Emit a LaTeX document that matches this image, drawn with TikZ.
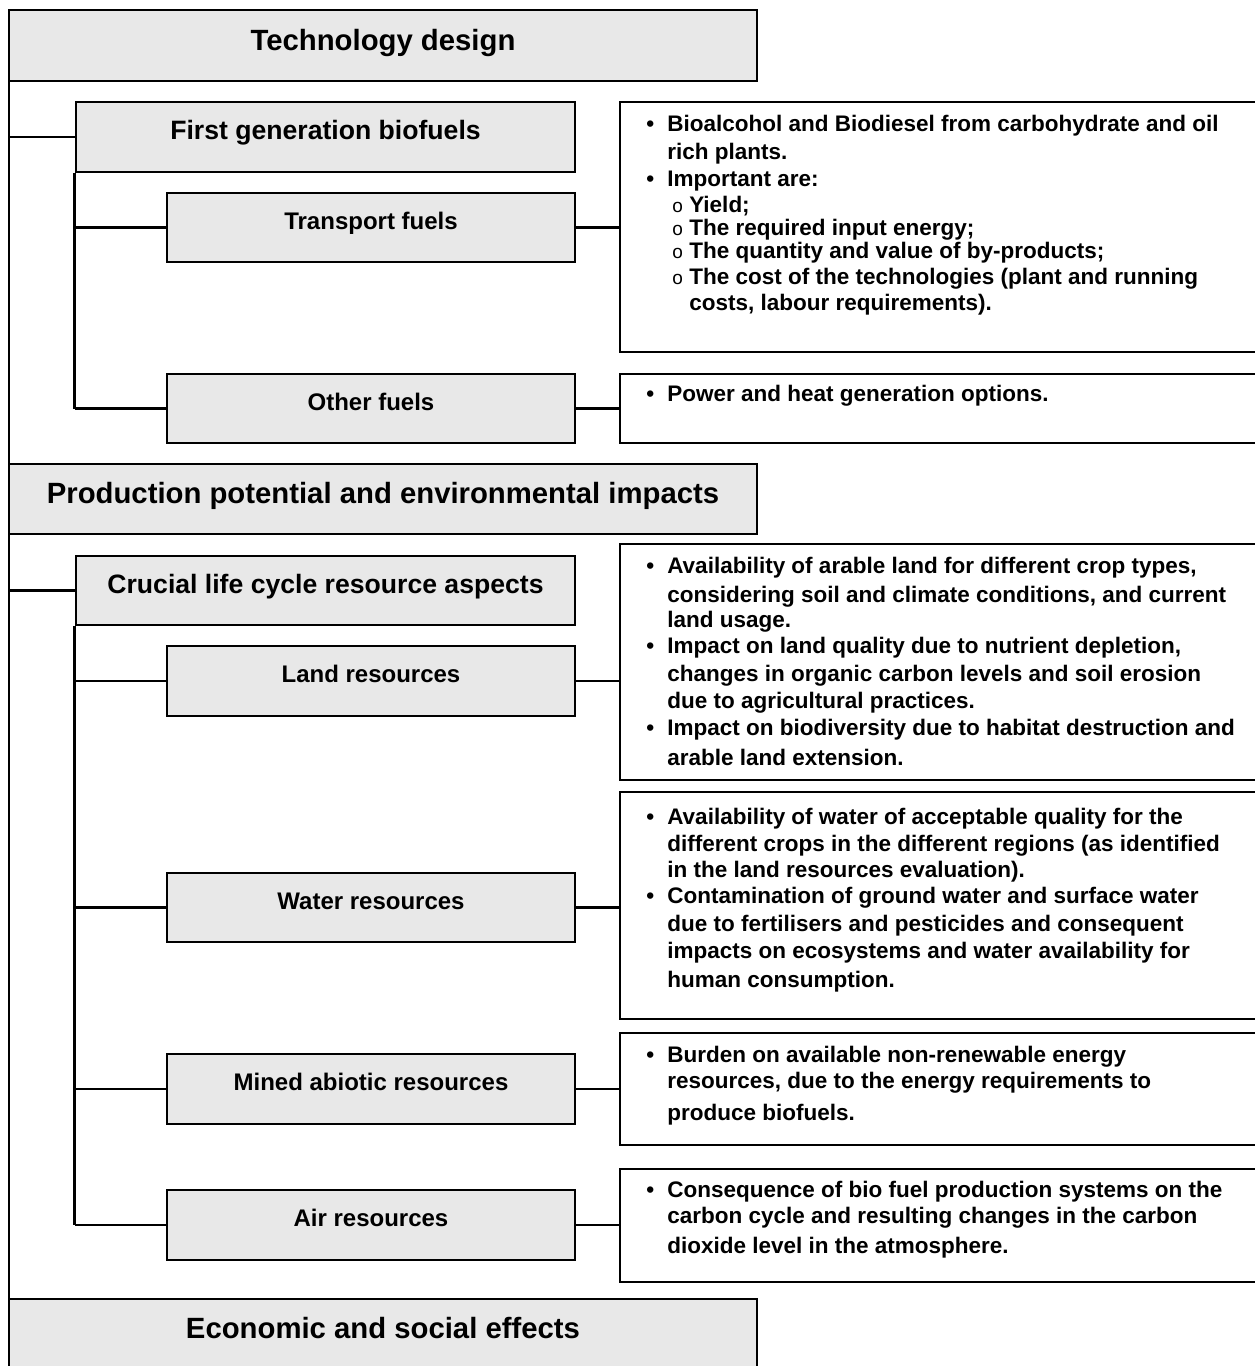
\documentclass[tikz,border=0pt]{standalone}
\usepackage{fontspec}
\setmainfont{Liberation Sans}
\definecolor{boxgray}{RGB}{232,232,232}
\newcommand\dline[4]{\node[dtext] (#1) at (#2,#3) {#4};}
\newcommand\bul{\makebox[21pt][l]{•}}
\newcommand\sbul{\makebox[17pt][l]{{\mdseries\fontsize{19}{19}\selectfont o}}}
\begin{document}
\begin{tikzpicture}[x=1pt,y=-1pt,line width=2.6pt,
  gbox/.style={draw=black,fill=boxgray,inner sep=0pt,line width=2.6pt},
  dbox/.style={draw=black,fill=white,inner sep=0pt,line width=2.6pt},
  lvlA/.style={gbox,font=\fontsize{29.3}{34}\selectfont\bfseries,text height=22pt,text depth=13pt},
  lvlB/.style={gbox,font=\fontsize{26.6}{30}\selectfont\bfseries,text height=20pt,text depth=14.9pt},
  lvlC/.style={gbox,font=\fontsize{24}{28}\selectfont\bfseries,text height=18pt,text depth=14.8pt},
  dtext/.style={font=\fontsize{22.5}{27}\selectfont\bfseries,inner sep=0pt,anchor=west,text height=16pt,text depth=5pt},
  conn/.style={draw=black,line width=2.6pt}]
\useasboundingbox[fill=white] (0,0) rectangle (1254,1366);

% ---- Technology design ----
\node[lvlA,minimum width=748pt,minimum height=71pt] (tech) at (383,45.5) {Technology design};
\node[lvlB,minimum width=499pt,minimum height=70pt] (fg) at (325.5,137) {First generation biofuels};
\node[lvlC,minimum width=408pt,minimum height=69pt] (tf) at (371,227.5) {Transport fuels};
\node[lvlC,minimum width=408pt,minimum height=69pt] (of) at (371,408.5) {Other fuels};
\node[dbox,minimum width=638pt,minimum height=250pt] (tfd) at (939,227) {};
\node[dbox,minimum width=638pt,minimum height=69pt] (ofd) at (939,408.5) {};

% ---- Production potential ----
\node[lvlA,minimum width=748pt,minimum height=70pt] (prod) at (383,499) {Production potential and environmental impacts};
\node[lvlB,minimum width=499pt,minimum height=69pt] (cl) at (325.5,590.5) {Crucial life cycle resource aspects};
\node[lvlC,minimum width=408pt,minimum height=70pt] (land) at (371,681) {Land resources};
\node[lvlC,minimum width=408pt,minimum height=69pt] (water) at (371,907.5) {Water resources};
\node[lvlC,minimum width=408pt,minimum height=70pt] (mined) at (371,1089) {Mined abiotic resources};
\node[lvlC,minimum width=408pt,minimum height=70pt] (air) at (371,1225) {Air resources};
\node[dbox,minimum width=638pt,minimum height=236pt] (landd) at (939,662) {};
\node[dbox,minimum width=638pt,minimum height=227pt] (waterd) at (939,905.5) {};
\node[dbox,minimum width=638pt,minimum height=112pt] (minedd) at (939,1089) {};
\node[dbox,minimum width=638pt,minimum height=113pt] (aird) at (939,1225.5) {};

% ---- Economic ----
\node[lvlA,minimum width=748pt,minimum height=70pt] (econ) at (383,1334) {Economic and social effects};

% ---- connectors ----
\coordinate (trunkTop) at (9,10);
\coordinate (trunkBot) at (9,1372);
\draw[conn] (trunkTop) -- (trunkBot);
\draw[conn] (fg.west) -- (fg.west -| trunkTop);
\draw[conn] (fg.south west) -- (of.west -| fg.south west);
\draw[conn] (tf.west) -- (tf.west -| fg.south west);
\draw[conn] (of.west) -- (of.west -| fg.south west);
\draw[conn] (tf.east) -- (tf.east -| tfd.west);
\draw[conn] (of.east) -- (of.east -| ofd.west);
\draw[conn] (cl.west) -- (cl.west -| trunkTop);
\draw[conn] (cl.south west) -- (air.west -| cl.south west);
\draw[conn] (land.west) -- (land.west -| cl.south west);
\draw[conn] (water.west) -- (water.west -| cl.south west);
\draw[conn] (mined.west) -- (mined.west -| cl.south west);
\draw[conn] (air.west) -- (air.west -| cl.south west);
\draw[conn] (land.east) -- (land.east -| landd.west);
\draw[conn] (water.east) -- (water.east -| waterd.west);
\draw[conn] (mined.east) -- (mined.east -| minedd.west);
\draw[conn] (air.east) -- (air.east -| aird.west);

% ---- detail texts ----
\dline{ta}{645}{126}{\bul Bioalcohol and Biodiesel from carbohydrate and oil}
\dline{tb}{666}{153.5}{rich plants.}
\dline{tc}{645}{180.5}{\bul Important are:}
\dline{td}{671}{207}{\sbul Yield;}
\dline{te}{671}{229.5}{\sbul The required input energy;}
\dline{tf2}{671}{252.5}{\sbul The quantity and value of by-products;}
\dline{tg}{671}{279}{\sbul The cost of the technologies (plant and running}
\dline{th}{688}{305}{costs, labour requirements).}

\dline{oa}{645}{395.5}{\bul Power and heat generation options.}

\dline{la}{645}{567.5}{\bul Availability of arable land for different crop types,}
\dline{lb}{666}{596.5}{considering soil and climate conditions, and current}
\dline{lc}{666}{621.5}{land usage.}
\dline{ld}{645}{647.5}{\bul Impact on land quality due to nutrient depletion,}
\dline{le}{666}{676}{changes in organic carbon levels and soil erosion}
\dline{lf}{666}{703}{due to agricultural practices.}
\dline{lg}{645}{730}{\bul Impact on biodiversity due to habitat destruction and}
\dline{lh}{666}{760}{arable land extension.}

\dline{wa}{645}{819}{\bul Availability of water of acceptable quality for the}
\dline{wb}{666}{846}{different crops in the different regions (as identified}
\dline{wc}{666}{871.5}{in the land resources evaluation).}
\dline{wd}{645}{897.5}{\bul Contamination of ground water and surface water}
\dline{we}{666}{926}{due to fertilisers and pesticides and consequent}
\dline{wf}{666}{953}{impacts on ecosystems and water availability for}
\dline{wg}{666}{982}{human consumption.}

\dline{ma}{645}{1056.5}{\bul Burden on available non-renewable energy}
\dline{mb}{666}{1082.5}{resources, due to the energy requirements to}
\dline{mc}{666}{1114.5}{produce biofuels.}

\dline{aa}{645}{1191.5}{\bul Consequence of bio fuel production systems on the}
\dline{ab}{666}{1217.5}{carbon cycle and resulting changes in the carbon}
\dline{ac}{666}{1247.5}{dioxide level in the atmosphere.}
\end{tikzpicture}
\end{document}
